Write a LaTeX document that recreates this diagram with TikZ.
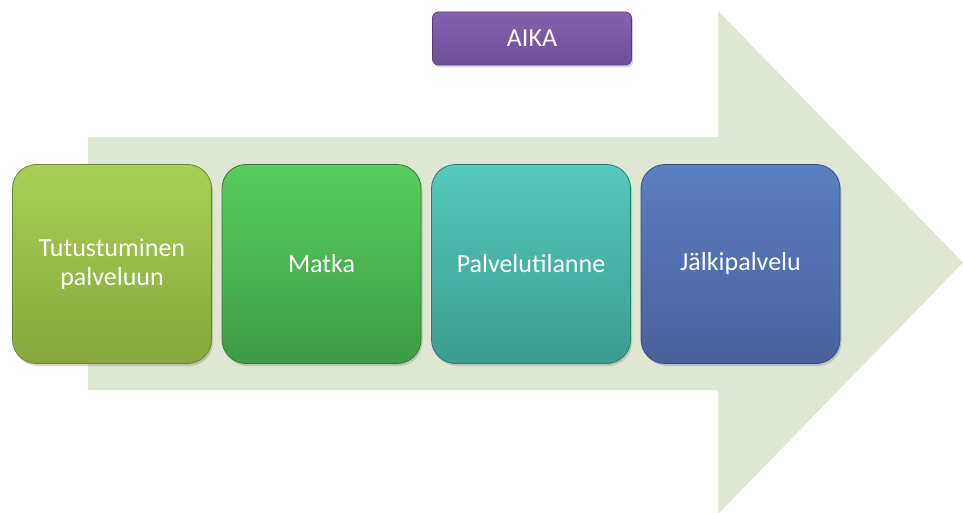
\documentclass[tikz,border=0pt]{standalone}
\usepackage{fontspec}
\setmainfont{Carlito}
\usetikzlibrary{shadows}
\definecolor{arrowfill}{HTML}{DEE6D4}
\definecolor{gA1}{HTML}{A8D055}\definecolor{gA2}{HTML}{88A63C}
\definecolor{gB1}{HTML}{58CC5E}\definecolor{gB2}{HTML}{3E9C44}
\definecolor{gC1}{HTML}{55CABB}\definecolor{gC2}{HTML}{3B9B8E}
\definecolor{gD1}{HTML}{5B80C2}\definecolor{gD2}{HTML}{48609C}
\definecolor{gE1}{HTML}{8462AE}\definecolor{gE2}{HTML}{6E4E98}
\tikzset{
  stagebox/.style={rounded corners=24pt, minimum width=199pt, minimum height=199pt,
     text width=190pt, align=center, text=white, font=\fontsize{26}{29}\selectfont,
     drop shadow={shadow xshift=1.5pt, shadow yshift=-2.5pt, opacity=0.35},
     line width=0.8pt, inner sep=0pt},
  timebox/.style={rounded corners=6pt, minimum width=199pt, minimum height=53pt,
     text=white, font=\fontsize{26}{29}\selectfont, inner sep=0pt,
     drop shadow={shadow xshift=1.5pt, shadow yshift=-2.5pt, opacity=0.35},
     line width=0.8pt},
}
\begin{document}
\begin{tikzpicture}[x=1pt,y=-1pt]
\useasboundingbox (0,0) rectangle (963,513);
% big arrow
\fill[arrowfill] (88,137) -- (718,137) -- (718,11) -- (963,262.5) -- (718,514) -- (718,390) -- (88,390) -- cycle;
% stage boxes
\node[stagebox, draw=gA2!80!black, top color=gA1, bottom color=gA2] (s1) at (112,264) {Tutustuminen\\palveluun};
\node[stagebox, draw=gB2!80!black, top color=gB1, bottom color=gB2] (s2) at (321.5,264) {Matka};
\node[stagebox, draw=gC2!80!black, top color=gC1, bottom color=gC2] (s3) at (531,264) {Palvelutilanne};
\node[stagebox, draw=gD2!80!black, top color=gD1, bottom color=gD2] (s4) at (740.5,264) {Jälkipalvelu};
% time box
\node[timebox, draw=gE2!80!black, top color=gE1, bottom color=gE2] (aika) at (532,38.5) {AIKA};
\end{tikzpicture}
\end{document}
